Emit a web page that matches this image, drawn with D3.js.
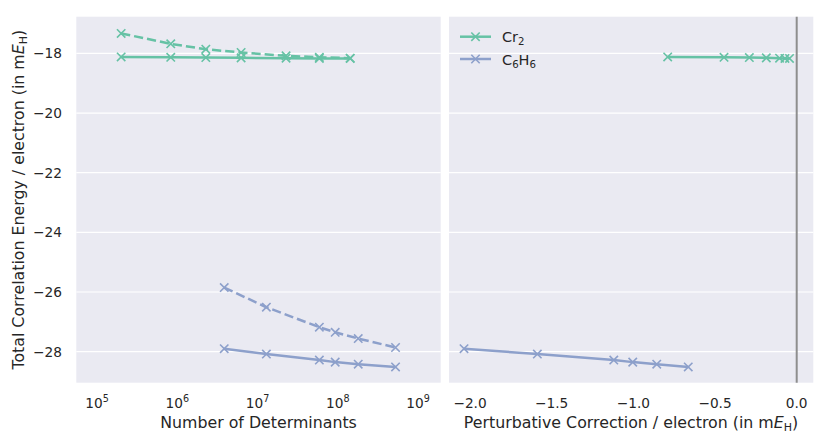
<!DOCTYPE html>
<html>
<head>
<meta charset="utf-8">
<script src="https://d3js.org/d3.v7.min.js"></script>
<style>
  body { margin: 0; background: #fff; }
  svg text { font-family: "DejaVu Sans", sans-serif; fill: #262626; }
</style>
</head>
<body>
<script>
// values
var cr2Dets   = [2.0e5, 8.3e5, 2.27e6, 6.25e6, 2.27e7, 5.9e7, 1.43e8];
var cr2Var    = [-17.33, -17.68, -17.86, -17.97, -18.08, -18.13, -18.16];
var cr2Total  = [-18.12, -18.13, -18.14, -18.15, -18.16, -18.17, -18.17];
var cr2PT     = [-0.79, -0.445, -0.29, -0.186, -0.105, -0.072, -0.044];

var c6h6Dets  = [3.85e6, 1.29e7, 5.9e7, 9.3e7, 1.8e8, 5.25e8];
var c6h6Var   = [-25.85, -26.51, -27.18, -27.35, -27.56, -27.86];
var c6h6Total = [-27.90, -28.08, -28.28, -28.35, -28.42, -28.51];
var c6h6PT    = [-2.037, -1.588, -1.12, -1.004, -0.857, -0.664];

var yTicks     = [-28, -26, -24, -22, -20, -18];
var xLogTicks  = [1e5, 1e6, 1e7, 1e8, 1e9];
var xPTTicks   = [-2.0, -1.5, -1.0, -0.5, 0.0];

var green = "#66c2a5", blue = "#8da0cb";

var svg = d3.select("body").append("svg")
    .attr("width", 831).attr("height", 441);

var top_ = 16.7, bottom = 382.7;
var y = d3.scaleLinear().domain([-29.04, -16.77]).range([bottom, top_]);
var xL = d3.scaleLog().domain([Math.pow(10, 4.742), Math.pow(10, 9.283)]).range([76.3, 440.7]);
var xR = d3.scaleLinear().domain([-2.129, 0.1016]).range([449, 813.3]);

function panel(x) {
  var r = x.range();
  svg.append("rect").attr("x", r[0]).attr("y", top_)
    .attr("width", r[1] - r[0]).attr("height", bottom - top_)
    .attr("fill", "#eaeaf2");
  svg.append("g").selectAll("line").data(yTicks).enter().append("line")
    .attr("x1", r[0]).attr("x2", r[1])
    .attr("y1", function(d) { return y(d); }).attr("y2", function(d) { return y(d); })
    .attr("stroke", "#fff").attr("stroke-width", 1.2);
}
panel(xL);
panel(xR);

// y tick labels
svg.append("g").selectAll("text").data(yTicks).enter().append("text")
  .attr("x", 62).attr("y", function(d) { return y(d) + 5; })
  .attr("text-anchor", "end").style("font-size", "13.7px")
  .text(function(d) { return "\u2212" + Math.abs(d); });

// left x ticks 10^n
var lt = svg.append("g").selectAll("text").data(xLogTicks).enter().append("text")
  .attr("x", function(d) { return xL(d); }).attr("y", 407.7)
  .attr("text-anchor", "middle").style("font-size", "13.7px");
lt.append("tspan").text("10");
lt.append("tspan").attr("dy", -6).style("font-size", "9.6px")
  .text(function(d) { return Math.round(Math.log10(d)); });

// right x ticks
svg.append("g").selectAll("text").data(xPTTicks).enter().append("text")
  .attr("x", function(d) { return xR(d); }).attr("y", 407.7)
  .attr("text-anchor", "middle").style("font-size", "13.7px")
  .text(function(d) { return (d < 0 ? "\u2212" : "") + Math.abs(d).toFixed(1); });

// axis labels
svg.append("text").attr("x", 258.5).attr("y", 428.3).attr("text-anchor", "middle")
  .style("font-size", "15.8px").text("Number of Determinants");

var xl = svg.append("text").attr("x", 631).attr("y", 428.3).attr("text-anchor", "middle")
  .style("font-size", "15.8px");
xl.append("tspan").text("Perturbative Correction / electron (in m");
xl.append("tspan").style("font-style", "italic").text("E");
xl.append("tspan").attr("dy", 3).style("font-size", "11px").text("H");
xl.append("tspan").attr("dy", -3).text(")");

var yl = svg.append("text")
  .attr("transform", "translate(23.5," + ((top_ + bottom) / 2) + ") rotate(-90)")
  .attr("text-anchor", "middle").style("font-size", "15.8px");
yl.append("tspan").text("Total Correlation Energy / electron (in m");
yl.append("tspan").style("font-style", "italic").text("E");
yl.append("tspan").attr("dy", 3).style("font-size", "11px").text("H");
yl.append("tspan").attr("dy", -3).text(")");

// vertical line at zero
svg.append("line").attr("x1", xR(0)).attr("x2", xR(0))
  .attr("y1", top_).attr("y2", bottom)
  .attr("stroke", "#8e8e8e").attr("stroke-width", 2);

function series(x, xs, ys, color, dashed) {
  var pts = xs.map(function(d, i) { return [x(d), y(ys[i])]; });
  svg.append("path").attr("d", d3.line()(pts))
    .attr("fill", "none").attr("stroke", color).attr("stroke-width", 2.5)
    .attr("stroke-dasharray", dashed ? "9.2,4" : null);
  svg.append("g").selectAll("path").data(pts).enter().append("path")
    .attr("d", function(p) {
      var s = 4.2;
      return "M" + (p[0] - s) + "," + (p[1] - s) + "L" + (p[0] + s) + "," + (p[1] + s) +
             "M" + (p[0] - s) + "," + (p[1] + s) + "L" + (p[0] + s) + "," + (p[1] - s);
    })
    .attr("stroke", color).attr("stroke-width", 1.6).attr("fill", "none");
}

series(xL, cr2Dets, cr2Var, green, true);
series(xL, cr2Dets, cr2Total, green, false);
series(xL, c6h6Dets, c6h6Var, blue, true);
series(xL, c6h6Dets, c6h6Total, blue, false);
series(xR, cr2PT, cr2Total, green, false);
series(xR, c6h6PT, c6h6Total, blue, false);

// legend
var legend = [{name: "Cr", sub: "2", color: green}, {name: "C6H6", color: blue}];
legend.forEach(function(d, i) {
  var ly = 36.7 + i * 22.3;
  svg.append("line").attr("x1", 460).attr("x2", 491).attr("y1", ly).attr("y2", ly)
    .attr("stroke", d.color).attr("stroke-width", 2.5);
  var s = 4.2, cx = 475.5;
  svg.append("path")
    .attr("d", "M" + (cx - s) + "," + (ly - s) + "L" + (cx + s) + "," + (ly + s) +
               "M" + (cx - s) + "," + (ly + s) + "L" + (cx + s) + "," + (ly - s))
    .attr("stroke", d.color).attr("stroke-width", 1.6);
  var t = svg.append("text").attr("x", 502).attr("y", ly + 5.5).style("font-size", "14.5px");
  if (i === 0) {
    t.append("tspan").text("Cr");
    t.append("tspan").attr("dy", 3).style("font-size", "10.2px").text("2");
  } else {
    t.append("tspan").text("C");
    t.append("tspan").attr("dy", 3).style("font-size", "10.2px").text("6");
    t.append("tspan").attr("dy", -3).text("H");
    t.append("tspan").attr("dy", 3).style("font-size", "10.2px").text("6");
  }
});
</script>
</body>
</html>
